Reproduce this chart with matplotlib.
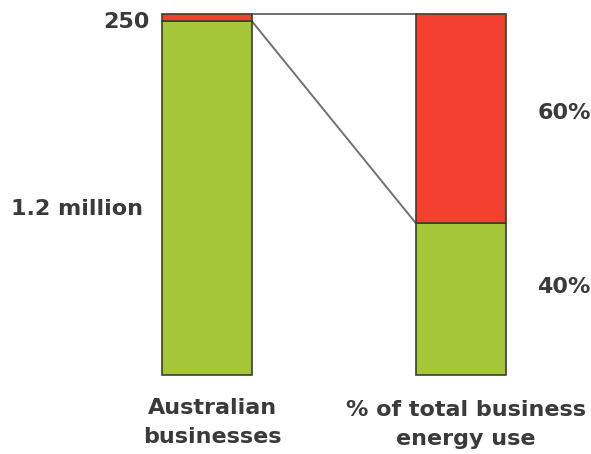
import matplotlib
matplotlib.use("Agg")
import matplotlib.pyplot as plt

categories = ["Australian\nbusinesses", "% of total business\nenergy use"]
green_vals = [98, 42]   # share of bar height (green, bottom)
red_vals = [2, 58]      # share of bar height (red, top)
side_labels = ["250", "1.2 million", "60%", "40%"]

GREEN = "#a6c639"
RED = "#f4412f"
EDGE = "#3d3d2d"
TXT = "#3a3a3a"
FONT = "DejaVu Sans"

fig = plt.figure(figsize=(5.91, 4.54), dpi=100)
ax = fig.add_axes([0, 0, 1, 1])
ax.set_xlim(-0.815, 1.512)
ax.set_ylim(-21.9, 103.9)
ax.axis("off")

x = [0, 1]
w = 0.354
ax.bar(x, green_vals, width=w, color=GREEN, edgecolor=EDGE, linewidth=1.2, zorder=3)
ax.bar(x, red_vals, bottom=green_vals, width=w, color=RED, edgecolor=EDGE, linewidth=1.2, zorder=3)

# connector lines
tops = [g + r for g, r in zip(green_vals, red_vals)]
ax.plot([x[0] + w / 2, x[1] - w / 2], [tops[0], tops[1]], color="#707070", lw=1.4, zorder=2)
ax.plot([x[0] + w / 2, x[1] - w / 2], [green_vals[0], green_vals[1]], color="#707070", lw=1.4, zorder=2)

kw = dict(fontsize=16, fontweight="bold", color=TXT, family=FONT)
ax.text(-0.224, 97.8, side_labels[0], ha="right", va="center", **kw)
ax.text(-0.252, 46.0, side_labels[1], ha="right", va="center", **kw)
ax.text(1.30, 72.7, side_labels[2], ha="left", va="center", **kw)
ax.text(1.30, 24.5, side_labels[3], ha="left", va="center", **kw)

label_y = [-6.3, -6.9]
for xi, yi, lab in zip(x, label_y, categories):
    ax.text(xi + 0.02, yi, lab, ha="center", va="top", linespacing=1.6, **kw)

fig.savefig("out.png", dpi=100, facecolor="white")
